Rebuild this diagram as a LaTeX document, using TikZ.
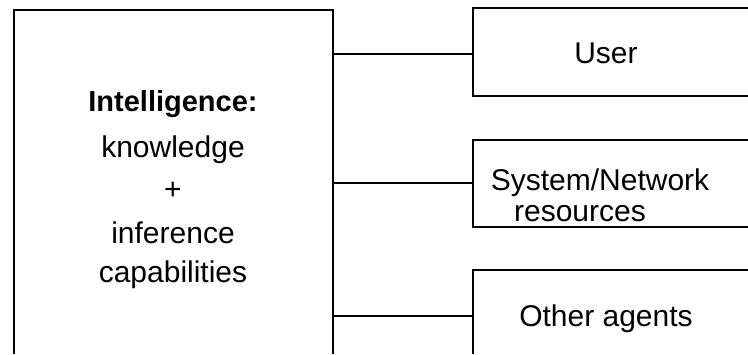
\documentclass[tikz,border=0pt]{standalone}
\usepackage{fontspec}
\setmainfont{Liberation Sans}
\begin{document}
\begin{tikzpicture}[x=1pt,y=-1pt,
  frame/.style={line width=2.2pt,line join=miter},
  link/.style={line width=2.2pt},
  label/.style={anchor=base,inner sep=0pt,font=\fontsize{30}{32}\selectfont}]
\useasboundingbox[fill=white] (0,0) rectangle (748,354);

% agent box, open at the bottom
\draw[frame] (14,354) -- (14,10) -- (333,10) -- (333,354);
\node[label,font=\bfseries\fontsize{29}{31}\selectfont] (intel) at (173,111) {Intelligence:};
\node[label] (know) at (173,157) {knowledge};
\node[label] (plus) at (173,199) {+};
\node[label] (infer) at (173,243) {inference};
\node[label] (capab) at (173,282) {capabilities};

% environment boxes, open on the right
\draw[frame] (748,8) -- (473,8) -- (473,96) -- (748,96);
\node[label] (user) at (606,63) {User};
\draw[frame] (748,140) -- (473,140) -- (473,227) -- (748,227);
\node[label] (sys) at (600,190) {System/Network};
\node[label] (res) at (580,221) {resources};
\draw[frame] (748,270) -- (473,270) -- (473,354);
\node[label] (other) at (606,326) {Other agents};

% attachment points on the box edges
\coordinate (a1) at (333,54);
\coordinate (a2) at (333,183);
\coordinate (a3) at (333,316);
\coordinate (b1) at (473,54);
\coordinate (b2) at (473,183);
\coordinate (b3) at (473,316);

\draw[link] (a1) -- (b1);
\draw[link] (a2) -- (b2);
\draw[link] (a3) -- (b3);
\end{tikzpicture}
\end{document}
